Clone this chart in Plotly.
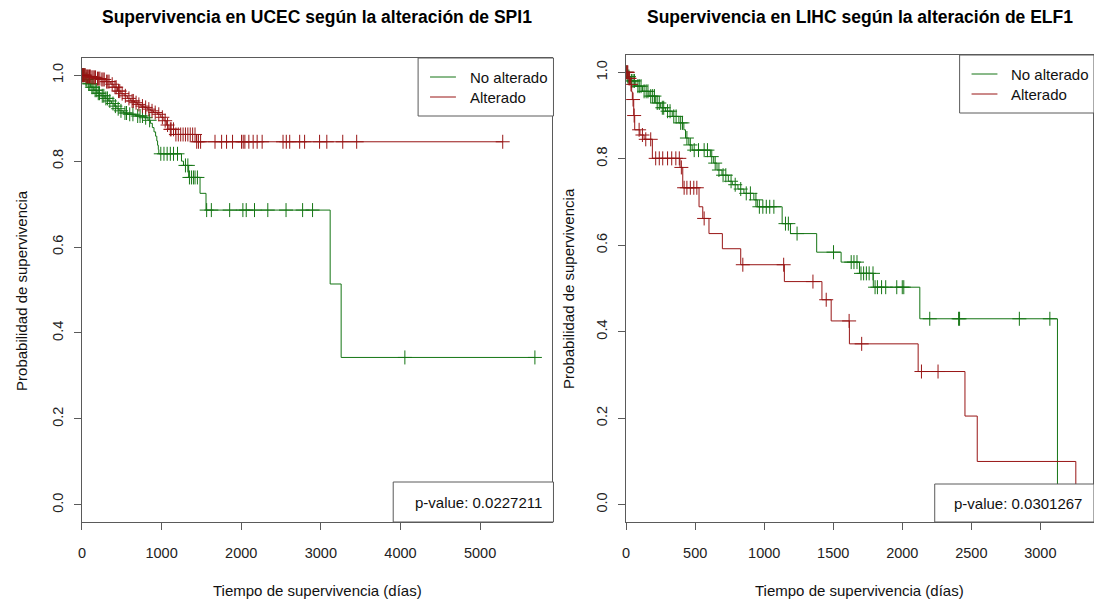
import plotly.graph_objects as go

# ---- UCEC / SPI1 ----
ucec_no_t = [40, 70, 110, 150, 190, 240, 290, 330, 370, 405, 440, 467, 520, 571, 675, 780,
             830, 860, 884, 905, 925, 940, 950, 959, 965, 1250, 1275, 1340, 1483, 1558, 3117, 3255]
ucec_no_s = [0.99, 0.98, 0.972, 0.965, 0.958, 0.952, 0.946, 0.94, 0.934, 0.928, 0.922, 0.917,
             0.912, 0.909, 0.905, 0.901, 0.895, 0.888, 0.878, 0.868, 0.858, 0.847, 0.837, 0.827,
             0.817, 0.80, 0.79, 0.762, 0.725, 0.686, 0.514, 0.343]
ucec_no_cens = [5, 15, 28, 50, 62, 85, 100, 125, 140, 165, 180, 205, 220, 255, 275, 300, 320, 350,
                390, 420, 455, 490, 540, 560, 600, 640, 700, 730, 760, 800, 850, 990, 1030, 1070,
                1110, 1150, 1200, 1300, 1330, 1350, 1375, 1400, 1420, 1450, 1566, 1625, 1855, 2021,
                2063, 2167, 2334, 2563, 2771, 2896, 4055, 5688]

ucec_alt_t = [50, 113, 180, 238, 300, 363, 400, 446, 490, 530, 570, 613, 660, 696, 740, 780, 820,
              863, 900, 946, 990, 1030, 1060, 1092, 1175, 1440]
ucec_alt_s = [0.997, 0.995, 0.992, 0.99, 0.985, 0.979, 0.972, 0.963, 0.957, 0.952, 0.946, 0.94,
              0.936, 0.932, 0.928, 0.925, 0.921, 0.917, 0.913, 0.909, 0.902, 0.894, 0.884, 0.874,
              0.862, 0.845]
ucec_alt_cens = [3, 10, 20, 30, 42, 55, 68, 80, 95, 105, 125, 140, 155, 170, 195, 210, 225, 250,
                 265, 280, 310, 325, 340, 380, 415, 430, 460, 475, 505, 545, 590, 630, 645, 680,
                 715, 760, 800, 840, 880, 920, 965, 1010, 1045, 1075, 1110, 1120, 1150, 1180, 1210,
                 1240, 1270, 1300, 1330, 1360, 1390, 1420, 1441, 1463, 1490, 1671, 1754, 1816, 1891,
                 2004, 2025, 2046, 2096, 2150, 2200, 2263, 2525, 2566, 2609, 2734, 2796, 2984, 3075,
                 3275, 3450, 5284]
ucec_pval = "p-value: 0.0227211"

# ---- LIHC / ELF1 ----
lihc_no_t = [9, 30, 70, 118, 166, 214, 250, 286, 334, 382, 418, 430, 454, 478, 610, 634, 658, 694,
             740, 769, 810, 853, 925, 950, 1130, 1190, 1380, 1557, 1690, 1790, 2127, 3124]
lihc_no_s = [0.99, 0.98, 0.968, 0.956, 0.945, 0.929, 0.918, 0.91, 0.898, 0.883, 0.867, 0.848,
             0.832, 0.82, 0.805, 0.79, 0.774, 0.762, 0.748, 0.74, 0.73, 0.72, 0.705, 0.689, 0.65,
             0.627, 0.584, 0.561, 0.535, 0.503, 0.43, 0.0]
lihc_no_cens = [4, 12, 20, 38, 50, 60, 85, 95, 108, 130, 145, 158, 178, 192, 205, 225, 240, 262,
                272, 300, 318, 345, 362, 395, 408, 440, 465, 493, 524, 565, 589, 620, 645, 672, 702,
                722, 760, 790, 830, 870, 900, 940, 965, 990, 1015, 1040, 1070, 1154, 1175, 1238,
                1502, 1630, 1650, 1672, 1701, 1720, 1740, 1760, 1788, 1803, 1820, 1850, 1880, 1960,
                2000, 2011, 2199, 2408, 2415, 2848, 3069]

lihc_alt_t = [15, 30, 40, 45, 55, 62, 100, 130, 190, 390, 410, 528, 555, 600, 697, 830, 1146,
              1418, 1485, 1617, 2115, 2454, 2543, 3257]
lihc_alt_s = [0.986, 0.972, 0.955, 0.937, 0.90, 0.867, 0.855, 0.845, 0.801, 0.78, 0.733, 0.689,
              0.662, 0.627, 0.592, 0.555, 0.516, 0.474, 0.425, 0.372, 0.308, 0.205, 0.10, 0.0]
lihc_alt_cens = [3, 8, 12, 20, 25, 35, 50, 58, 94, 118, 142, 178, 214, 240, 265, 300, 330, 360,
                 385, 400, 420, 440, 465, 490, 512, 565, 845, 1141, 1353, 1449, 1615, 1706, 2139,
                 2259]
lihc_pval = "p-value: 0.0301267"

group_names = ["No alterado", "Alterado"]
GREEN = "#147514"
RED = "#981515"
FRAME = "#5a5a5a"
FONT = "Liberation Sans, Arial, Helvetica, sans-serif"

W, H = 1094, 602


def px(x):
    return x / W


def py(y):
    return 1 - y / H


def surv_at(times, survs, t):
    s = 1.0
    for ti, si in zip(times, survs):
        if ti <= t:
            s = si
    return s


def km_traces(times, survs, cens, color, xa, ya):
    end = max(times[-1], max(cens))
    xs = [0] + list(times)
    ys = [1.0] + list(survs)
    if survs[-1] > 0:
        xs.append(end)
        ys.append(survs[-1])
    line = go.Scatter(x=xs, y=ys, mode="lines", line=dict(color=color, width=1, shape="hv"),
                      xaxis=xa, yaxis=ya, showlegend=False, hoverinfo="skip")
    marks = go.Scatter(x=cens, y=[surv_at(times, survs, c) for c in cens], mode="markers",
                       marker=dict(symbol="cross-thin", size=10, line=dict(color=color, width=1)),
                       xaxis=xa, yaxis=ya, showlegend=False, hoverinfo="skip")
    return [line, marks]


fig = go.Figure()
for tr in (km_traces(ucec_no_t, ucec_no_s, ucec_no_cens, GREEN, "x", "y")
           + km_traces(ucec_alt_t, ucec_alt_s, ucec_alt_cens, RED, "x", "y")
           + km_traces(lihc_no_t, lihc_no_s, lihc_no_cens, GREEN, "x2", "y2")
           + km_traces(lihc_alt_t, lihc_alt_s, lihc_alt_cens, RED, "x2", "y2")):
    fig.add_trace(tr)

# panel geometry (pixels)
L = dict(x0=78.3, x1=551, top=58, bot=522, scale=0.08)
R = dict(x0=625, x1=1094, top=55, bot=522, scale=0.1387)

axis_common = dict(showline=True, mirror=True, linecolor=FRAME, linewidth=1, ticks="outside",
                   ticklen=7, tickwidth=1, tickcolor=FRAME, showgrid=False, zeroline=False,
                   tickfont=dict(family=FONT, size=14.5, color="#222222"))

fig.update_layout(
    width=W, height=H, margin=dict(l=0, r=0, t=0, b=0),
    paper_bgcolor="white", plot_bgcolor="white", showlegend=False,
    xaxis=dict(domain=[px(L["x0"]), px(L["x1"])],
               range=[0, (L["x1"] - L["x0"]) / L["scale"]],
               tickvals=[0, 1000, 2000, 3000, 4000, 5000], anchor="y",
               ticklabelstandoff=11, **axis_common),
    yaxis=dict(domain=[py(L["bot"]), py(L["top"])], range=[-0.04, 1.04],
               tickvals=[0, 0.2, 0.4, 0.6, 0.8, 1.0], ticktext=["0.0", "0.2", "0.4", "0.6", "0.8", "1.0"],
               tickangle=-90, anchor="x", ticklabelstandoff=5, **axis_common),
    xaxis2=dict(domain=[px(R["x0"]), px(R["x1"])],
                range=[0, (R["x1"] - R["x0"]) / R["scale"]],
                tickvals=[0, 500, 1000, 1500, 2000, 2500, 3000], anchor="y2",
                ticklabelstandoff=11, **axis_common),
    yaxis2=dict(domain=[py(R["bot"]), py(R["top"])], range=[-0.04, 1.04],
                tickvals=[0, 0.2, 0.4, 0.6, 0.8, 1.0], ticktext=["0.0", "0.2", "0.4", "0.6", "0.8", "1.0"],
                tickangle=-90, anchor="x2", ticklabelstandoff=5, **axis_common),
)

shapes = []
annotations = []


def text(x, y, s, size=15, bold=False, angle=0, xanchor="center", color="#111111"):
    annotations.append(dict(
        x=px(x), y=py(y), xref="paper", yref="paper", text=f"<b>{s}</b>" if bold else s,
        showarrow=False, xanchor=xanchor, yanchor="middle", textangle=angle,
        font=dict(family=FONT, size=size, color=color)))


def box(x0, y0, x1, y1):
    shapes.append(dict(type="rect", xref="paper", yref="paper", x0=px(x0), x1=px(x1),
                       y0=py(y1), y1=py(y0), fillcolor="white",
                       line=dict(color=FRAME, width=1), layer="above"))


def seg(x0, x1, y, color):
    shapes.append(dict(type="line", xref="paper", yref="paper", x0=px(x0), x1=px(x1),
                       y0=py(y), y1=py(y), line=dict(color=color, width=1), layer="above"))


panels = [
    (L, "Supervivencia en UCEC según la alteración de SPI1", ucec_pval, 18, 416, 391, 482),
    (R, "Supervivencia en LIHC según la alteración de ELF1", lihc_pval, 567, 960, 935, 484),
]
for g, title, pval, ytx, leg_x0, pv_x0, pv_y0 in panels:
    cx = (g["x0"] + g["x1"]) / 2
    text(cx, 17, title, size=17.5, bold=True, color="#000000")
    text(cx, 590, "Tiempo de supervivencia (días)")
    text(ytx, (g["top"] + g["bot"]) / 2, "Probabilidad de supervivencia", angle=-90)
    # legend
    box(leg_x0, g["top"], g["x1"] + 1, g["top"] + 58)
    for i, (name, col) in enumerate(zip(group_names, [GREEN, RED])):
        yy = g["top"] + 19 + i * 20
        seg(leg_x0 + 12, leg_x0 + 38, yy, col)
        text(leg_x0 + 50, yy, name, xanchor="left")
    # p-value
    box(pv_x0, pv_y0, g["x1"] + 1, g["bot"])
    text(g["x1"] - 9, (pv_y0 + g["bot"]) / 2, pval, xanchor="right")

fig.update_layout(shapes=shapes, annotations=annotations)
fig.write_html("out.html")
